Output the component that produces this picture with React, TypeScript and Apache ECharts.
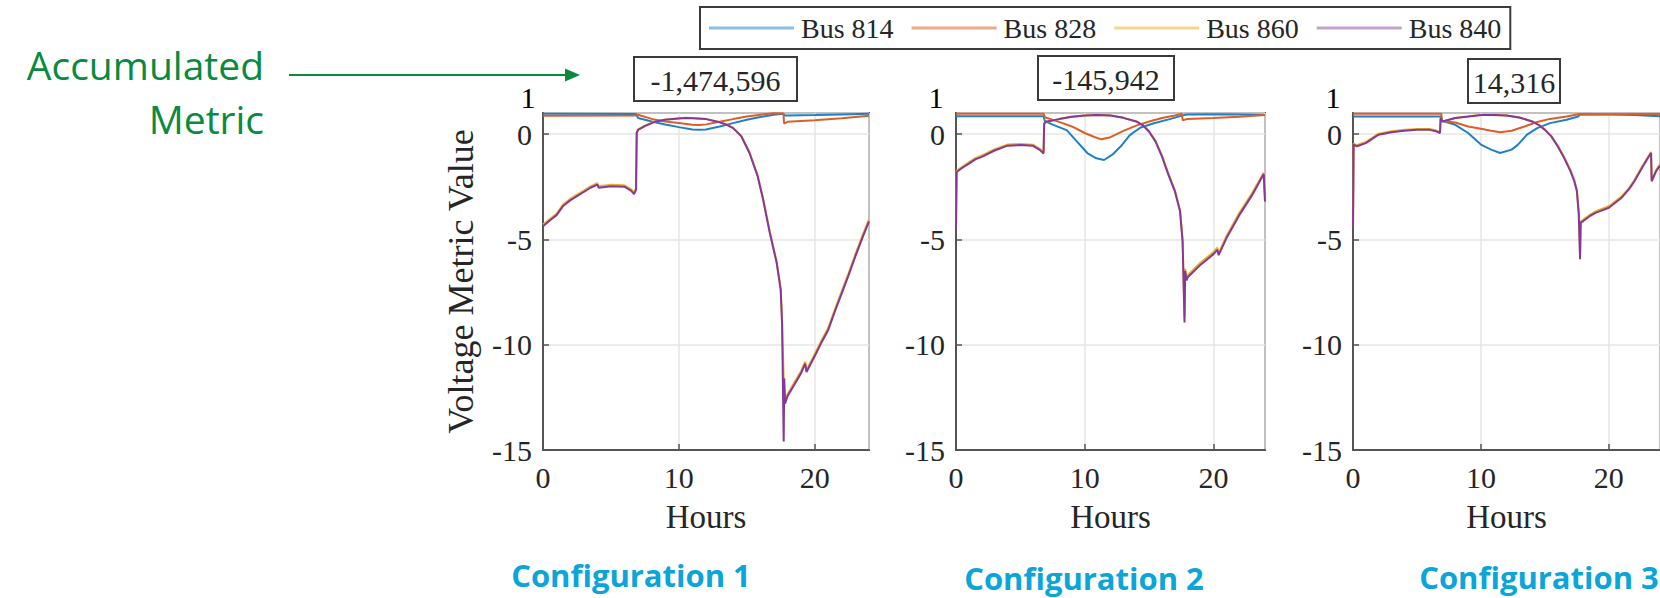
import React, { useEffect, useRef } from 'react';
import * as echarts from 'echarts';

// ---------- data ----------
const busNames = ['Bus 814', 'Bus 828', 'Bus 860', 'Bus 840'];
const lineColors = ['#1F80C8', '#DC5E28', '#EDB120', '#853898'];
const legendColors = ['#8FBEE2', '#EFAA8E', '#F6D791', '#C7A0CF'];
const configNames = ['Configuration 1', 'Configuration 2', 'Configuration 3'];
const accumulatedMetrics = ['-1,474,596', '-145,942', '14,316'];
const annotationText = 'Accumulated\nMetric';
const yTopLabel = '1';

// Configuration 1 : [hour, value]
const bus814Cfg1 = [[0, 0.97], [6.85, 0.95], [7, 0.76], [8, 0.6], [9, 0.45], [10, 0.33], [11, 0.22], [11.5, 0.2], [12, 0.22], [13, 0.36], [14, 0.52], [15, 0.68], [16, 0.81], [17, 0.92], [17.7, 0.97], [17.75, 0.88], [18, 0.88], [20, 0.9], [22, 0.93], [24, 0.96]];
const bus828Cfg1 = [[0, 0.87], [6.85, 0.88], [7, 0.92], [8, 0.72], [9, 0.6], [10, 0.52], [11, 0.44], [11.5, 0.43], [12, 0.46], [13, 0.58], [14, 0.71], [15, 0.83], [16, 0.92], [17, 0.99], [17.7, 0.98], [17.75, 0.5], [18, 0.58], [20, 0.66], [22, 0.75], [24, 0.87]];
const bus860Cfg1 = [[0, -4.3], [0.5, -4.03], [1, -3.78], [1.5, -3.33], [2, -3.08], [2.5, -2.88], [3, -2.68], [3.5, -2.48], [4, -2.33], [4.1, -2.48], [5, -2.41], [6, -2.43], [6.5, -2.63], [6.7, -2.78], [6.85, -2.58], [6.9, 0.07], [7, 0.22], [7.5, 0.4], [8.3, 0.61], [9, 0.69], [10, 0.75], [10.5, 0.77], [11, 0.76], [12, 0.72], [13, 0.57], [13.5, 0.46], [14, 0.29], [14.6, -0.08], [15.2, -0.85], [15.8, -1.95], [16.2, -3.05], [16.7, -4.65], [17.2, -6.05], [17.5, -7.35], [17.6, -8.9], [17.72, -11.6], [17.82, -12.65], [18, -12.35], [18.5, -11.8], [19, -11.25], [19.3, -10.8], [19.4, -11.2], [20, -10.45], [20.5, -9.8], [21, -9.2], [21.5, -8.3], [22, -7.45], [22.5, -6.6], [23, -5.7], [23.5, -4.85], [24, -4.05]];
const bus840Cfg1 = [[0, -4.38], [0.5, -4.1], [1, -3.85], [1.5, -3.4], [2, -3.15], [2.5, -2.95], [3, -2.75], [3.5, -2.55], [4, -2.4], [4.1, -2.55], [5, -2.48], [6, -2.5], [6.5, -2.7], [6.7, -2.85], [6.85, -2.65], [6.9, 0.05], [7, 0.2], [7.5, 0.38], [8.3, 0.6], [9, 0.68], [10, 0.74], [10.5, 0.76], [11, 0.75], [12, 0.71], [13, 0.56], [13.5, 0.45], [14, 0.28], [14.6, -0.11], [15.2, -0.9], [15.8, -2.0], [16.2, -3.1], [16.7, -4.7], [17.2, -6.1], [17.5, -7.4], [17.6, -9.0], [17.72, -14.6], [17.76, -11.6], [17.82, -12.8], [18, -12.45], [18.5, -11.9], [19, -11.35], [19.3, -10.9], [19.4, -11.3], [20, -10.55], [20.5, -9.9], [21, -9.3], [21.5, -8.4], [22, -7.55], [22.5, -6.7], [23, -5.8], [23.5, -4.95], [24, -4.15]];

// Configuration 2
const bus814Cfg2 = [[0, 0.85], [6.8, 0.85], [6.9, 0.62], [7.5, 0.45], [8.6, 0.19], [9.4, -0.36], [10.2, -0.9], [10.9, -1.15], [11.5, -1.23], [12.2, -0.95], [12.8, -0.58], [13.5, -0.05], [14.3, 0.3], [15.3, 0.5], [16.6, 0.71], [17.7, 0.9], [18, 0.93], [20, 0.94], [22, 0.93], [24, 0.9]];
const bus828Cfg2 = [[0, 0.96], [6.8, 0.96], [6.9, 0.8], [8, 0.58], [9, 0.36], [10, 0.05], [10.8, -0.15], [11.3, -0.25], [12, -0.15], [13, 0.15], [14, 0.4], [15, 0.6], [16, 0.76], [17, 0.88], [17.55, 0.96], [17.6, 0.66], [18, 0.72], [20, 0.76], [22, 0.82], [24, 0.9]];
const bus860Cfg2 = [[0, -4.45], [0.05, -1.74], [0.5, -1.54], [1, -1.34], [1.5, -1.14], [2, -1.02], [3, -0.72], [4, -0.5], [5, -0.47], [6, -0.51], [6.5, -0.7], [6.8, -0.87], [6.85, 0.5], [7, 0.58], [8, 0.71], [9, 0.82], [10, 0.88], [11, 0.9], [12, 0.88], [13, 0.77], [14, 0.6], [14.5, 0.43], [15, 0.13], [15.5, -0.32], [16, -1.02], [16.5, -1.88], [17, -2.66], [17.4, -3.6], [17.6, -5.0], [17.75, -8.7], [17.8, -6.4], [17.9, -6.85], [18, -6.7], [19, -6.1], [20, -5.6], [20.3, -5.4], [20.4, -5.65], [21, -4.85], [22, -3.75], [23, -2.8], [23.9, -1.84], [24, -3.1]];
const bus840Cfg2 = [[0, -4.5], [0.05, -1.8], [0.5, -1.6], [1, -1.4], [1.5, -1.2], [2, -1.08], [3, -0.78], [4, -0.55], [5, -0.52], [6, -0.56], [6.5, -0.75], [6.8, -0.92], [6.85, 0.5], [7, 0.58], [8, 0.71], [9, 0.82], [10, 0.88], [11, 0.9], [12, 0.88], [13, 0.77], [14, 0.6], [14.5, 0.43], [15, 0.11], [15.5, -0.36], [16, -1.07], [16.5, -1.94], [17, -2.72], [17.4, -3.67], [17.6, -5.1], [17.75, -8.95], [17.8, -6.5], [17.9, -6.95], [18, -6.8], [19, -6.2], [20, -5.7], [20.3, -5.5], [20.4, -5.75], [21, -4.95], [22, -3.85], [23, -2.9], [23.9, -1.9], [24, -3.2]];

// Configuration 3
const bus814Cfg3 = [[0, 0.83], [6.9, 0.83], [6.95, 0.63], [8, 0.44], [9, 0.05], [10, -0.5], [10.8, -0.74], [11.5, -0.9], [12.4, -0.74], [12.9, -0.5], [13.6, -0.03], [14.4, 0.28], [15.4, 0.52], [16.7, 0.68], [17.6, 0.83], [17.75, 0.94], [20, 0.93], [22, 0.9], [24, 0.84]];
const bus828Cfg3 = [[0, 0.96], [6.9, 0.96], [6.95, 0.63], [8, 0.55], [9, 0.36], [10, 0.25], [10.8, 0.16], [11.5, 0.09], [12.4, 0.16], [13.4, 0.36], [14.4, 0.57], [15.4, 0.72], [16.7, 0.83], [17.6, 0.94], [18, 0.93], [20, 0.94], [22, 0.95], [24, 0.95]];
const bus860Cfg3 = [[0, -4.45], [0.05, -0.45], [0.3, -0.53], [1, -0.38], [2, 0.02], [3, 0.13], [4, 0.2], [5, 0.24], [6, 0.24], [6.5, 0.17], [6.8, 0.09], [6.85, 0.75], [7, 0.6], [8, 0.76], [9, 0.83], [10, 0.91], [11, 0.91], [12, 0.88], [13, 0.79], [14, 0.6], [14.5, 0.44], [15, 0.22], [15.5, -0.08], [16, -0.53], [16.5, -1.08], [17, -1.7], [17.3, -2.18], [17.5, -2.64], [17.65, -3.74], [17.75, -5.7], [17.8, -4.14], [18, -4.06], [18.5, -3.84], [19, -3.66], [20, -3.43], [21, -2.96], [21.6, -2.54], [22, -2.18], [22.6, -1.54], [23, -1.14], [23.3, -0.85], [23.35, -2.16], [23.7, -1.7], [24, -1.44]];
const bus840Cfg3 = [[0, -4.5], [0.05, -0.5], [0.3, -0.58], [1, -0.43], [2, -0.03], [3, 0.09], [4, 0.16], [5, 0.2], [6, 0.2], [6.5, 0.13], [6.8, 0.05], [6.85, 0.76], [7, 0.6], [8, 0.76], [9, 0.83], [10, 0.91], [11, 0.91], [12, 0.88], [13, 0.79], [14, 0.6], [14.5, 0.44], [15, 0.2], [15.5, -0.11], [16, -0.58], [16.5, -1.13], [17, -1.76], [17.3, -2.24], [17.5, -2.7], [17.65, -3.8], [17.75, -5.94], [17.8, -4.2], [18, -4.13], [18.5, -3.9], [19, -3.73], [20, -3.5], [21, -3.02], [21.6, -2.6], [22, -2.24], [22.6, -1.6], [23, -1.2], [23.3, -0.9], [23.35, -2.24], [23.7, -1.76], [24, -1.5]];

const configSeries = [
  [bus814Cfg1, bus828Cfg1, bus860Cfg1, bus840Cfg1],
  [bus814Cfg2, bus828Cfg2, bus860Cfg2, bus840Cfg2],
  [bus814Cfg3, bus828Cfg3, bus860Cfg3, bus840Cfg3],
];

// ---------- layout / style ----------
const SERIF = "'Liberation Serif', 'DejaVu Serif', serif";
const SANS = "'Open Sans', 'Noto Sans', sans-serif";
const TEXT_DARK = '#262626';
const FRAME = '#555555';
const GREEN = '#0A8A3F';
const CYAN = '#0BA5D9';

const gridBoxes = [
  { left: 543, width: 326 },
  { left: 956, width: 309 },
  { left: 1353, width: 311 },
];
const GRID_TOP = 113;
const GRID_H = 337;

const valueBoxes = [
  { x: 634, y: 57, w: 163, h: 44 },
  { x: 1038, y: 56, w: 136, h: 44 },
  { x: 1468, y: 59, w: 92, h: 44 },
];
const topLabelX = [528, 936, 1333];
const configLabelPos = [
  { x: 631, y: 575 },
  { x: 1084, y: 578 },
  { x: 1539, y: 577 },
];

export default function App() {
  const ref = useRef<HTMLDivElement>(null);

  useEffect(() => {
    if (!ref.current) return;
    const chart = echarts.init(ref.current, undefined, { renderer: 'svg' });

    const grids = gridBoxes.map((g) => ({
      left: g.left,
      top: GRID_TOP,
      width: g.width,
      height: GRID_H,
      show: true,
      borderColor: FRAME,
      borderWidth: 2,
      backgroundColor: 'transparent',
    }));

    const xAxes = gridBoxes.map((_, i) => ({
      type: 'value',
      gridIndex: i,
      min: 0,
      max: 24,
      interval: 10,
      name: 'Hours',
      nameLocation: 'middle',
      nameGap: 50,
      nameTextStyle: { fontFamily: SERIF, fontSize: 33, color: TEXT_DARK },
      axisLine: { show: true, onZero: false, lineStyle: { color: FRAME, width: 2 } },
      axisTick: { show: true, inside: true, length: 6, lineStyle: { color: FRAME, width: 1.5 } },
      axisLabel: { fontFamily: SERIF, fontSize: 30, color: TEXT_DARK, margin: 12, showMaxLabel: false },
      splitLine: { show: true, lineStyle: { color: '#E6E6E6', width: 1.5 } },
    }));

    const yAxes = gridBoxes.map((_, i) => ({
      type: 'value',
      gridIndex: i,
      min: -15,
      max: 1,
      interval: 5,
      name: i === 0 ? 'Voltage Metric Value' : '',
      nameLocation: 'middle',
      nameGap: 64,
      nameTextStyle: { fontFamily: SERIF, fontSize: 36, color: TEXT_DARK },
      axisLine: { show: true, onZero: false, lineStyle: { color: FRAME, width: 2 } },
      axisTick: { show: true, inside: true, length: 6, lineStyle: { color: FRAME, width: 1.5 } },
      axisLabel: { fontFamily: SERIF, fontSize: 30, color: TEXT_DARK, margin: 11, showMaxLabel: false },
      splitLine: { show: true, lineStyle: { color: '#E6E6E6', width: 1.5 } },
    }));

    const series: any[] = [];
    configSeries.forEach((cfg, gi) => {
      cfg.forEach((data, bi) => {
        series.push({
          type: 'line',
          name: busNames[bi],
          xAxisIndex: gi,
          yAxisIndex: gi,
          data,
          symbol: 'none',
          showSymbol: false,
          lineStyle: { color: lineColors[bi], width: 2 },
          itemStyle: { color: lineColors[bi] },
          z: 2 + bi,
        });
      });
    });

    const graphics: any[] = [];
    // green annotation (two right-aligned lines)
    graphics.push({
      type: 'text',
      style: {
        text: annotationText, x: 264, y: 91, fill: GREEN,
        fontFamily: SANS, fontSize: 39, fontWeight: 400, lineHeight: 54,
        align: 'right', verticalAlign: 'middle', textAlign: 'right', textVerticalAlign: 'middle',
      },
    });
    graphics.push({
      type: 'line',
      shape: { x1: 289, y1: 75, x2: 568, y2: 75 },
      style: { stroke: GREEN, lineWidth: 2 },
    });
    graphics.push({
      type: 'polygon',
      shape: { points: [[565, 68.5], [580, 75], [565, 81.5]] },
      style: { fill: GREEN },
    });

    valueBoxes.forEach((b, i) => {
      graphics.push({
        type: 'rect',
        shape: { x: b.x, y: b.y, width: b.w, height: b.h },
        style: { fill: '#ffffff', stroke: '#3a3a3a', lineWidth: 2 },
      });
      graphics.push({
        type: 'text',
        style: {
          text: accumulatedMetrics[i], x: b.x + b.w / 2, y: b.y + b.h / 2 + 1, fill: TEXT_DARK,
          fontFamily: SERIF, fontSize: 30,
          align: 'center', verticalAlign: 'middle', textAlign: 'center', textVerticalAlign: 'middle',
        },
      });
      graphics.push({
        type: 'text',
        style: {
          text: yTopLabel, x: topLabelX[i], y: 97, fill: '#000000',
          fontFamily: SERIF, fontSize: 30,
          align: 'center', verticalAlign: 'middle', textAlign: 'center', textVerticalAlign: 'middle',
        },
      });
      graphics.push({
        type: 'text',
        style: {
          text: configNames[i], x: configLabelPos[i].x, y: configLabelPos[i].y, fill: CYAN,
          fontFamily: SANS, fontSize: 31, fontWeight: 700, lineHeight: 32,
          align: 'center', verticalAlign: 'middle', textAlign: 'center', textVerticalAlign: 'middle',
        },
      });
    });

    chart.setOption({
      animation: false,
      backgroundColor: '#ffffff',
      legend: {
        left: 700,
        top: 7,
        padding: [7, 9],
        itemGap: 18,
        itemWidth: 85,
        itemHeight: 3,
        icon: 'rect',
        selectedMode: false,
        borderColor: '#3a3a3a',
        borderWidth: 2,
        backgroundColor: '#ffffff',
        textStyle: { fontFamily: SERIF, fontSize: 28, color: TEXT_DARK, padding: [0, 0, 0, 2] },
        data: busNames.map((n, i) => ({ name: n, itemStyle: { color: legendColors[i] } })),
      },
      grid: grids,
      xAxis: xAxes,
      yAxis: yAxes,
      series,
      graphic: graphics,
    });

    return () => chart.dispose();
  }, []);

  return (
    <div
      ref={ref}
      style={{ position: 'fixed', left: 0, top: 0, width: 1660, height: 598, background: '#ffffff' }}
    />
  );
}
